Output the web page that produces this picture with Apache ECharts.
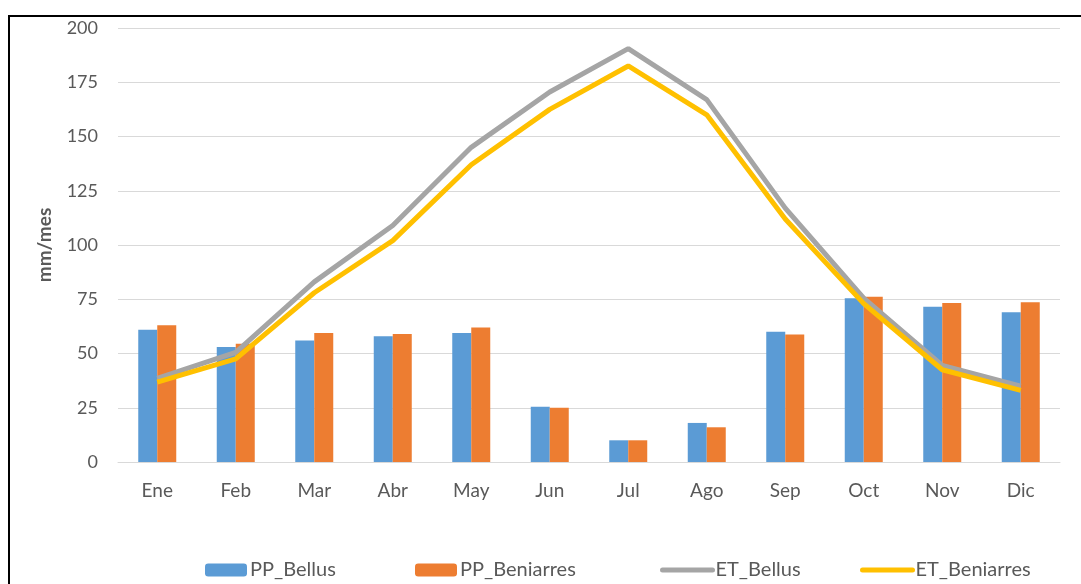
<!DOCTYPE html>
<html>
<head>
<meta charset="utf-8">
<script src="https://cdn.jsdelivr.net/npm/echarts@6/dist/echarts.min.js"></script>
<style>
  html, body { margin: 0; padding: 0; background: #fff; }
  #main { width: 1081px; height: 584px; }
</style>
</head>
<body>
<div id="main"></div>
<script>
// meses y valores
var meses = ["Ene", "Feb", "Mar", "Abr", "May", "Jun", "Jul", "Ago", "Sep", "Oct", "Nov", "Dic"];
var ppBellus = [61, 53, 56, 58, 59.5, 25.5, 10, 18, 60, 75.5, 71.5, 69];
var ppBeniarres = [63, 54.5, 59.5, 59, 62, 25, 10, 16, 58.7, 76.2, 73.3, 73.6];
var etBellus = [38.5, 50.5, 83, 109, 145, 170.5, 190.5, 167, 117, 75.5, 44.5, 35];
var etBeniarres = [36.8, 47.5, 78, 102, 137, 162.5, 182.5, 160, 112, 73, 42.5, 33];
var yTicks = [0, 25, 50, 75, 100, 125, 150, 175, 200];

var fuente = "Lato";
var gris = "#595959";
var myChart = echarts.init(document.getElementById("main"));

// una leyenda por serie para colocar cada una como en el original
var leyendaPos = [
  { name: "PP_Bellus", left: 200 },
  { name: "PP_Beniarres", left: 410 },
  { name: "ET_Bellus", left: 655 },
  { name: "ET_Beniarres", left: 855 }
];
var leyendas = leyendaPos.map(function (l, i) {
  var item = { name: l.name };
  if (i >= 2) {
    item.itemStyle = { opacity: 0 };
    item.lineStyle = { width: 5, cap: "round" };
  }
  return {
    left: l.left,
    top: 555,
    itemWidth: i >= 2 ? 50 : 42,
    itemHeight: 13,
    itemGap: 4,
    textStyle: { color: gris, fontSize: 20, fontFamily: fuente, padding: [0, 0, 0, -2] },
    data: [item]
  };
});

var option = {
  animation: false,
  textStyle: { fontFamily: fuente },
  grid: { left: 118, right: 21, top: 28, bottom: 122 },
  graphic: [
    // marco negro arriba e izquierda
    {
      type: "polyline",
      shape: { points: [[9, 584], [9, 16], [1081, 16]] },
      style: { stroke: "#000", lineWidth: 2, fill: null }
    }
  ],
  legend: leyendas,
  xAxis: {
    type: "category",
    data: meses,
    axisLine: { lineStyle: { color: "#D9D9D9", width: 1 } },
    axisTick: { show: false },
    axisLabel: { color: gris, fontSize: 19, margin: 19 }
  },
  yAxis: {
    type: "value",
    min: yTicks[0],
    max: yTicks[yTicks.length - 1],
    interval: 25,
    name: "mm/mes",
    nameLocation: "middle",
    nameGap: 64,
    nameRotate: 90,
    nameTextStyle: { color: gris, fontSize: 19, fontWeight: "bold" },
    axisLine: { show: false },
    axisTick: { show: false },
    axisLabel: { color: gris, fontSize: 18, margin: 20 },
    splitLine: { lineStyle: { color: "#D9D9D9", width: 1 } }
  },
  series: [
    {
      name: "PP_Bellus",
      type: "bar",
      data: ppBellus,
      barWidth: 19,
      barGap: "0%",
      itemStyle: { color: "#5B9BD5" }
    },
    {
      name: "PP_Beniarres",
      type: "bar",
      data: ppBeniarres,
      barWidth: 19,
      barGap: "0%",
      itemStyle: { color: "#ED7D31" }
    },
    {
      name: "ET_Bellus",
      type: "line",
      data: etBellus,
      symbol: "none",
      z: 3,
      lineStyle: { color: "#A5A5A5", width: 5 },
      itemStyle: { color: "#A5A5A5" }
    },
    {
      name: "ET_Beniarres",
      type: "line",
      data: etBeniarres,
      symbol: "none",
      z: 4,
      lineStyle: { color: "#FFC000", width: 5 },
      itemStyle: { color: "#FFC000" }
    }
  ]
};

myChart.setOption(option);
</script>
</body>
</html>
